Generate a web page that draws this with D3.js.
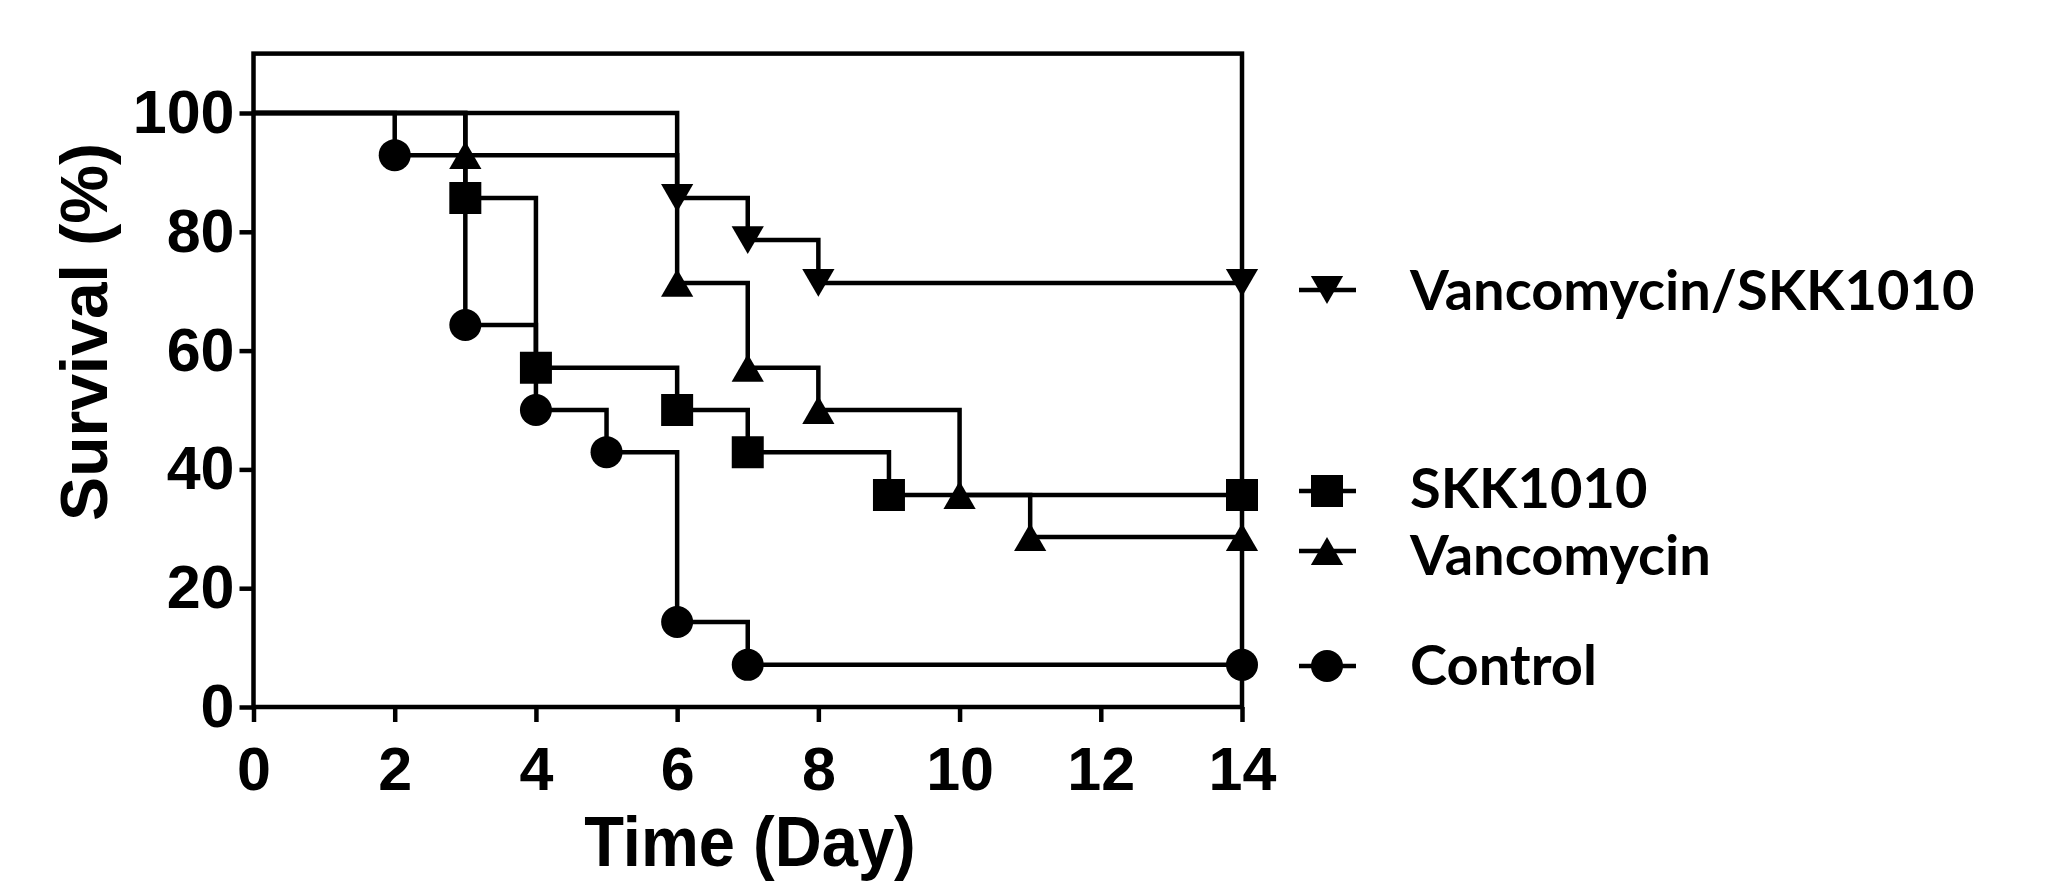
<!DOCTYPE html>
<html>
<head>
<meta charset="utf-8">
<script src="https://cdn.jsdelivr.net/npm/d3@7"></script>
<style>
  html, body { margin:0; padding:0; background:#fff; }
  svg { display:block; }
</style>
</head>
<body>
<div id="chart"></div>
<script>
// survival data (n=14 per group, steps of ~7.1%)
const groups = ["Vancomycin/SKK1010", "SKK1010", "Vancomycin", "Control"];

const comboDays = [0, 6, 7, 8, 14];
const comboSurvival = [100, 85.7, 78.6, 71.4, 71.4];

const skkDays = [0, 3, 4, 6, 7, 9, 14];
const skkSurvival = [100, 85.7, 57.1, 50, 42.9, 35.7, 35.7];

const vancoDays = [0, 3, 6, 7, 8, 10, 11, 14];
const vancoSurvival = [100, 92.9, 71.4, 57.1, 50, 35.7, 28.6, 28.6];

const controlDays = [0, 2, 3, 4, 5, 6, 7, 14];
const controlSurvival = [100, 92.9, 64.3, 50, 42.9, 14.3, 7.1, 7.1];

const xTicks = [0, 2, 4, 6, 8, 10, 12, 14];
const yTicks = [0, 20, 40, 60, 80, 100];

const width = 2060;
const height = 881;
const lw = 4.5;

const svg = d3.select("#chart")
    .append("svg")
    .attr("width", width)
    .attr("height", height);

const x = d3.scaleLinear().domain([0, 14]).range([253.5, 1242]);
const y = d3.scaleLinear().domain([0, 110]).range([707, 53.6]);

// custom markers, centred on their bounding box like GraphPad does
const triUp = {
    draw(ctx, size){
        const s = Math.sqrt(size);
        ctx.moveTo(0, -s*0.45);
        ctx.lineTo(s*0.52, s*0.45);
        ctx.lineTo(-s*0.52, s*0.45);
        ctx.closePath();
    }
};
const triDown = {
    draw(ctx, size){
        const s = Math.sqrt(size);
        ctx.moveTo(0, s*0.45);
        ctx.lineTo(s*0.52, -s*0.45);
        ctx.lineTo(-s*0.52, -s*0.45);
        ctx.closePath();
    }
};
const square = {
    draw(ctx, size){
        const s = Math.sqrt(size)/2;
        ctx.rect(-s, -s, 2*s, 2*s);
    }
};
const ellipse = {
    draw(ctx, size){
        const r = Math.sqrt(size)/2;
        ctx.moveTo(r, 0);
        ctx.arc(0, 0, r, 0, 2*Math.PI);
    }
};

const series = [
    {name: groups[0], days: comboDays, surv: comboSurvival, shape: triDown, size: 31*31},
    {name: groups[1], days: skkDays, surv: skkSurvival, shape: square, size: 32*32},
    {name: groups[2], days: vancoDays, surv: vancoSurvival, shape: triUp, size: 31*31},
    {name: groups[3], days: controlDays, surv: controlSurvival, shape: ellipse, size: 32*32}
];

// frame
svg.append("rect")
    .attr("x", x(0))
    .attr("y", y(110))
    .attr("width", x(14) - x(0))
    .attr("height", y(0) - y(110))
    .attr("fill", "none")
    .attr("stroke", "#000")
    .attr("stroke-width", lw);

// axes
const gy = svg.append("g")
    .attr("transform", `translate(${x(0)},0)`)
    .call(d3.axisLeft(y).tickValues(yTicks).tickSize(14).tickPadding(5));

const gx = svg.append("g")
    .attr("transform", `translate(0,${y(0)})`)
    .call(d3.axisBottom(x).tickValues(xTicks).tickSize(15).tickPadding(25));

[gx, gy].forEach(g=>{
    g.select(".domain").remove();
    g.selectAll(".tick line").attr("stroke", "#000").attr("stroke-width", lw);
    g.selectAll(".tick text")
        .attr("fill", "#000")
        .style("font-family", "'Liberation Sans', Arial, sans-serif")
        .style("font-weight", "bold")
        .style("font-size", "61px");
});

// axis titles
svg.append("text")
    .attr("transform", "translate(107,332) rotate(-90)")
    .attr("text-anchor", "middle")
    .style("font-family", "'Liberation Sans', Arial, sans-serif")
    .style("font-weight", "bold")
    .style("font-size", "66px")
    .text("Survival (%)");

svg.append("text")
    .attr("transform", "translate(750,866) scale(0.93,1)")
    .attr("text-anchor", "middle")
    .style("font-family", "'Liberation Sans', Arial, sans-serif")
    .style("font-weight", "bold")
    .style("font-size", "70px")
    .text("Time (Day)");

// step curves
const line = d3.line()
    .x(d=>x(d[0]))
    .y(d=>y(d[1]))
    .curve(d3.curveStepAfter);

series.forEach(s=>{

    const pts = s.days.map((d,i)=>[d, s.surv[i]]);

    svg.append("path")
        .datum(pts)
        .attr("d", line)
        .attr("fill", "none")
        .attr("stroke", "#000")
        .attr("stroke-width", lw);

    svg.append("g")
        .selectAll("path")
        .data(pts.slice(1))
        .enter()
        .append("path")
        .attr("transform", d=>`translate(${x(d[0])},${y(d[1])})`)
        .attr("d", d3.symbol().type(s.shape).size(s.size))
        .attr("fill", "#000");

});

// legend
const legendRows = [
    {cy: 290, base: 310},
    {cy: 491, base: 508},
    {cy: 551, base: 575},
    {cy: 666, base: 685}
];

const legend = svg.append("g");

series.forEach((s,i)=>{

    const r = legendRows[i];

    legend.append("line")
        .attr("x1", 1299).attr("x2", 1356)
        .attr("y1", r.cy).attr("y2", r.cy)
        .attr("stroke", "#000")
        .attr("stroke-width", lw);

    legend.append("path")
        .attr("transform", `translate(1327,${r.cy})`)
        .attr("d", d3.symbol().type(s.shape).size(s.size))
        .attr("fill", "#000");

    legend.append("text")
        .attr("x", 1410)
        .attr("y", r.base)
        .style("font-family", "Lato, 'Open Sans', sans-serif")
        .style("font-weight", "bold")
        .style("font-size", "56px")
        .text(s.name);

});
</script>
</body>
</html>
